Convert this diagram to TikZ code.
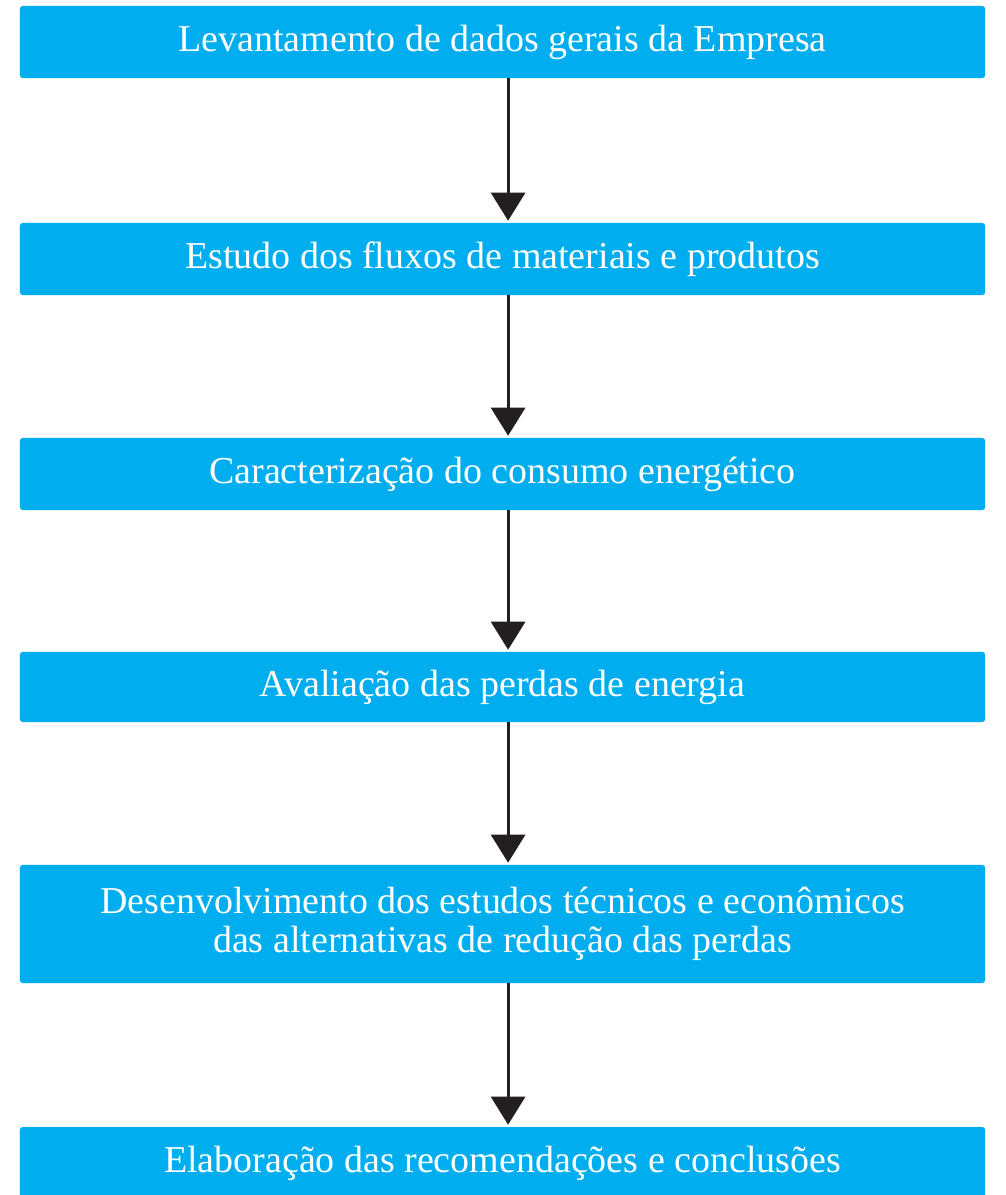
\documentclass[tikz,border=0pt]{standalone}
\usepackage{fontspec}
\setmainfont{Liberation Serif}
\usepackage{tikz}
\usetikzlibrary{arrows.meta,positioning}
\definecolor{stepblue}{HTML}{00AEEF}
\definecolor{arrowdark}{HTML}{231F20}

\tikzset{
  stepbox/.style={fill=stepblue, rounded corners=2pt, text=white, align=center,
    minimum width=24.125cm, minimum height=1.8cm, inner sep=0pt,
    font=\fontsize{27}{27.7}\selectfont},
  flow/.style={draw=arrowdark, line width=2.1pt,
    -{Triangle[width=0.85cm, length=0.7cm]}, shorten >=0.05cm}
}

\begin{document}
\begin{tikzpicture}[x=0.025cm, y=-0.025cm]
\useasboundingbox (0,0) rectangle (1005,1195);
\node[stepbox] (dados) at (502.5,42) {Levantamento de dados gerais da Empresa};
\node[stepbox] (fluxos) at (502.5,259) {Estudo dos fluxos de materiais e produtos};
\node[stepbox] (consumo) at (502.5,474) {Caracterização do consumo energético};
\node[stepbox, minimum height=1.75cm] (perdas) at (502.5,687) {Avaliação das perdas de energia};
\node[stepbox, minimum height=2.95cm] (estudos) at (502.5,924) {Desenvolvimento dos estudos técnicos e econômicos\\das alternativas de redução das perdas};
\node[stepbox] (conclusoes) at (502.5,1163) {Elaboração das recomendações e conclusões};

% arrows sit a little right of centre
\draw[flow] ([xshift=0.14cm]dados.south) -- ([xshift=0.14cm]fluxos.north);
\draw[flow] ([xshift=0.14cm]fluxos.south) -- ([xshift=0.14cm]consumo.north);
\draw[flow] ([xshift=0.14cm]consumo.south) -- ([xshift=0.14cm]perdas.north);
\draw[flow] ([xshift=0.14cm]perdas.south) -- ([xshift=0.14cm]estudos.north);
\draw[flow] ([xshift=0.14cm]estudos.south) -- ([xshift=0.14cm]conclusoes.north);
\end{tikzpicture}
\end{document}
